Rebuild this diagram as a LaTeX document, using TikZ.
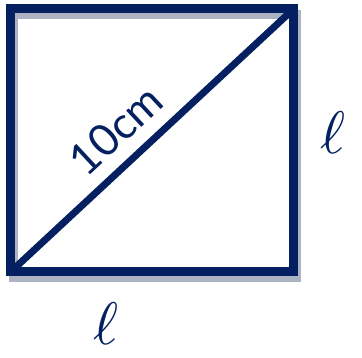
\documentclass[tikz,border=0pt]{standalone}
\usepackage{fontspec}
\usepackage{unicode-math}
\newfontfamily\handfont{Lato}
\definecolor{navy}{RGB}{4,32,96}
\definecolor{shade}{RGB}{172,180,196}
\begin{document}
\begin{tikzpicture}[x=1pt,y=-1pt,
  sideline/.style={draw=navy,line width=9pt,line join=miter},
  shadowline/.style={draw=shade,line width=9pt,line join=miter},
  diagline/.style={draw=navy,line width=7pt},
  lbl/.style={text=navy,inner sep=0pt,font=\fontsize{60}{60}\selectfont},
  dlbl/.style={text=navy,inner sep=0pt,font=\handfont\fontsize{44}{44}\selectfont}]
\useasboundingbox (0,0) rectangle (362,358);
\coordinate (A) at (10.5,272);
\coordinate (B) at (293.5,272);
\coordinate (C) at (293.5,9);
\coordinate (D) at (10.5,9);
\draw[shadowline] ([shift={(3,6)}]A) -- ([shift={(3,6)}]B) -- ([shift={(3,6)}]C) -- ([shift={(3,6)}]D) -- cycle;
\draw[sideline] (A) -- (B) -- (C) -- (D) -- cycle;
\draw[diagline] (A) -- (C) node[dlbl, sloped, pos=0.45, above=13pt] (len) {10cm};
\node[lbl] (lr) at (333,133) {$\ell$};
\node[lbl] (lb) at (106,324) {$\ell$};
\end{tikzpicture}
\end{document}
